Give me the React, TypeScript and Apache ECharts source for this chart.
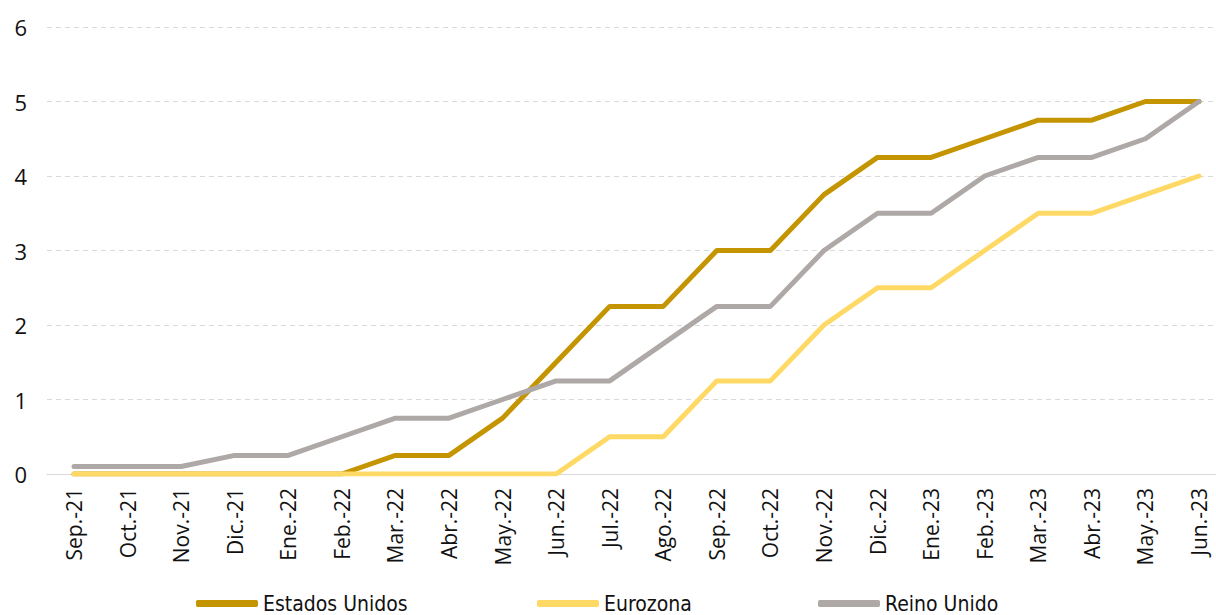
import React, { useEffect, useRef } from "react";
import * as echarts from "echarts";

const months = [
  "Sep.-21", "Oct.-21", "Nov.-21", "Dic.-21", "Ene.-22", "Feb.-22", "Mar.-22", "Abr.-22",
  "May.-22", "Jun.-22", "Jul.-22", "Ago.-22", "Sep.-22", "Oct.-22", "Nov.-22", "Dic.-22",
  "Ene.-23", "Feb.-23", "Mar.-23", "Abr.-23", "May.-23", "Jun.-23",
];

const estadosUnidos = [0, 0, 0, 0, 0, 0, 0.25, 0.25, 0.75, 1.5, 2.25, 2.25, 3, 3, 3.75, 4.25, 4.25, 4.5, 4.75, 4.75, 5, 5];
const eurozona = [0, 0, 0, 0, 0, 0, 0, 0, 0, 0, 0.5, 0.5, 1.25, 1.25, 2, 2.5, 2.5, 3, 3.5, 3.5, 3.75, 4];
const reinoUnido = [0.1, 0.1, 0.1, 0.25, 0.25, 0.5, 0.75, 0.75, 1, 1.25, 1.25, 1.75, 2.25, 2.25, 3, 3.5, 3.5, 4, 4.25, 4.25, 4.5, 5];

const yTicks = [0, 1, 2, 3, 4, 5, 6];

const COLORS = {
  us: "#C49500",
  ez: "#FFD966",
  uk: "#AEA9A7",
};

const AXIS_FONT = "'Open Sans', 'Noto Sans', sans-serif";
const LEGEND_FONT = "'DejaVu Sans Condensed', 'DejaVu Sans', sans-serif";

const TOP = 27;
const HEIGHT = 447;

export default function App() {
  const ref = useRef<HTMLDivElement>(null);

  useEffect(() => {
    if (!ref.current) return;
    const chart = echarts.init(ref.current, undefined, { renderer: "svg" });

    const legendBase = {
      bottom: 1,
      padding: 0,
      icon: "roundRect",
      itemWidth: 62,
      itemHeight: 7,
      itemGap: 4,
      selectedMode: false,
      textStyle: { fontFamily: LEGEND_FONT, fontSize: 21, color: "#111" },
    };

    const valueAxis = {
      type: "value",
      min: yTicks[0],
      max: yTicks[yTicks.length - 1],
      interval: 1,
      axisLine: { show: false },
      axisTick: { show: false },
    };

    chart.setOption({
      animation: false,
      backgroundColor: "#ffffff",
      grid: [
        // background frame: gridlines, baseline and value labels
        { left: 47, top: TOP, right: 0, height: HEIGHT },
        // plotting area: first and last month sit on its edges
        { left: 74, top: TOP, right: 17, height: HEIGHT },
      ],
      legend: [
        { ...legendBase, left: 196, data: ["Estados Unidos"] },
        { ...legendBase, left: 537, data: ["Eurozona"] },
        { ...legendBase, left: 818, data: ["Reino Unido"] },
      ],
      xAxis: [
        {
          type: "category",
          gridIndex: 0,
          data: months,
          axisLine: { show: true, lineStyle: { color: "#d9d9d9", width: 1 } },
          axisTick: { show: false },
          axisLabel: { show: false },
          splitLine: { show: false },
        },
        {
          type: "category",
          gridIndex: 1,
          data: months,
          boundaryGap: false,
          axisLine: { show: false },
          axisTick: { show: false },
          axisLabel: {
            rotate: 90,
            interval: 0,
            margin: 14,
            fontFamily: AXIS_FONT,
            fontSize: 21,
            color: "#111",
          },
          splitLine: { show: false },
        },
      ],
      yAxis: [
        {
          ...valueAxis,
          gridIndex: 0,
          axisLabel: {
            margin: 20,
            fontFamily: AXIS_FONT,
            fontSize: 22,
            color: "#111",
          },
          splitLine: {
            show: true,
            lineStyle: { color: "#d9d9d9", type: [5, 4], width: 1 },
          },
        },
        {
          ...valueAxis,
          gridIndex: 1,
          axisLabel: { show: false },
          splitLine: { show: false },
        },
      ],
      series: [
        {
          name: "Estados Unidos",
          type: "line",
          xAxisIndex: 1,
          yAxisIndex: 1,
          data: estadosUnidos,
          symbol: "none",
          color: COLORS.us,
          lineStyle: { width: 5, color: COLORS.us, cap: "round", join: "round" },
        },
        {
          name: "Eurozona",
          type: "line",
          xAxisIndex: 1,
          yAxisIndex: 1,
          data: eurozona,
          symbol: "none",
          color: COLORS.ez,
          lineStyle: { width: 5, color: COLORS.ez, cap: "round", join: "round" },
        },
        {
          name: "Reino Unido",
          type: "line",
          xAxisIndex: 1,
          yAxisIndex: 1,
          data: reinoUnido,
          symbol: "none",
          color: COLORS.uk,
          lineStyle: { width: 5, color: COLORS.uk, cap: "round", join: "round" },
        },
      ],
    });

    return () => chart.dispose();
  }, []);

  return (
    <div
      ref={ref}
      style={{ position: "fixed", left: 0, top: 0, width: 1216, height: 615, overflow: "hidden" }}
    />
  );
}
